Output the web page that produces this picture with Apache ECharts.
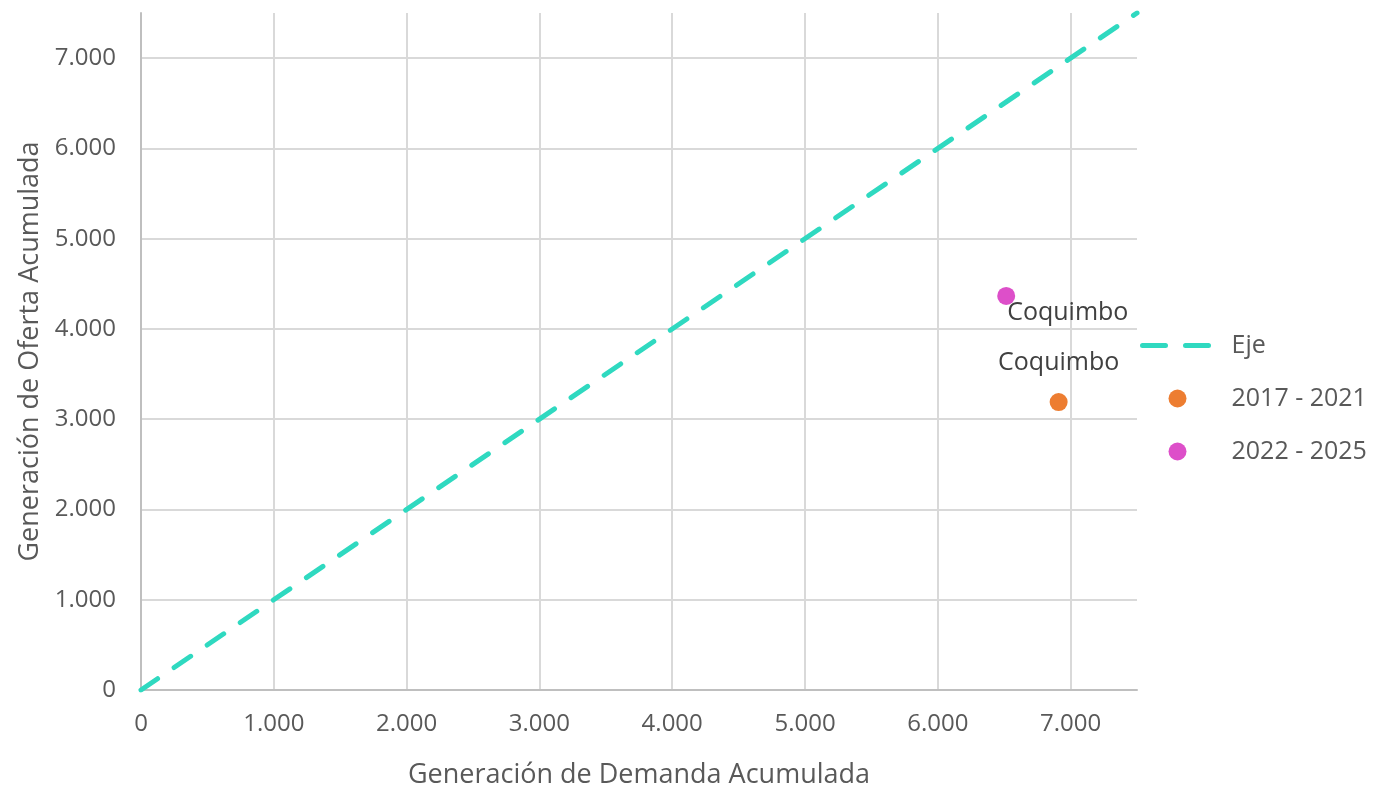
<!DOCTYPE html>
<html><head><meta charset="utf-8">
<script src="https://cdn.jsdelivr.net/npm/echarts@6/dist/echarts.min.js"></script>
<style>html,body{margin:0;padding:0;background:#fff}#c{width:1386px;height:788px}</style>
</head><body><div id="c"></div>
<script>
const ejeData = [[0, 0], [7500, 7500]];
const serie2017 = [[6910, 3190]];
const serie2022 = [[6515, 4365]];
const pointLabels = ['Coquimbo'];
const seriesNames = ['Eje', '2017 - 2021', '2022 - 2025'];
const xName = 'Generación de Demanda Acumulada';
const yName = 'Generación de Oferta Acumulada';

const font = '"Open Sans", "Noto Sans", sans-serif';
const fmt = v => v === 0 ? '0' : (v / 1000).toFixed(3);
const teal = '#2fd9c0';

const chart = echarts.init(document.getElementById('c'));
chart.setOption({
  animation: false,
  textStyle: { fontFamily: font },
  grid: { left: 141, right: 249, top: 13, bottom: 98, containLabel: false, outerBoundsMode: 'none' },
  legend: {
    orient: 'vertical', left: 1135, top: 328,
    itemWidth: 70, itemHeight: 18, itemGap: 28,
    textStyle: { fontSize: 25, color: '#595959', fontFamily: font, padding: [0, 0, 0, 14] },
    data: [
      { name: seriesNames[0], itemStyle: { opacity: 0 },
        lineStyle: { color: teal, width: 5, type: [23, 20], cap: 'round' } },
      { name: seriesNames[1], icon: 'circle' },
      { name: seriesNames[2], icon: 'circle' }
    ]
  },
  xAxis: {
    type: 'value', min: 0, max: 7500, interval: 1000,
    name: xName, nameLocation: 'middle', nameGap: 72,
    nameTextStyle: { fontSize: 27, color: '#595959', fontFamily: font },
    axisLine: { show: true, lineStyle: { color: '#bfbfbf', width: 2 } },
    axisTick: { show: false },
    axisLabel: { fontSize: 24, color: '#595959', margin: 22, formatter: fmt, showMaxLabel: false },
    splitLine: { show: true, showMaxLine: false, lineStyle: { color: '#d9d9d9', width: 2 } }
  },
  yAxis: {
    type: 'value', min: 0, max: 7500, interval: 1000,
    name: yName, nameLocation: 'middle', nameGap: 93,
    nameTextStyle: { fontSize: 27, color: '#595959', fontFamily: font },
    axisLine: { show: true, lineStyle: { color: '#bfbfbf', width: 2 } },
    axisTick: { show: false },
    axisLabel: { fontSize: 24, color: '#595959', margin: 25, formatter: fmt, showMaxLabel: false },
    splitLine: { show: true, showMaxLine: false, lineStyle: { color: '#d9d9d9', width: 2 } }
  },
  series: [
    {
      name: seriesNames[0], type: 'line', data: ejeData,
      showSymbol: false, symbol: 'none',
      lineStyle: { color: teal, width: 5, type: [20, 20], cap: 'round' },
      itemStyle: { color: teal }
    },
    {
      name: seriesNames[1], type: 'scatter', data: serie2017,
      symbolSize: 18, itemStyle: { color: '#ed7d31', opacity: 1 },
      label: {
        show: true, position: 'top', distance: 18,
        formatter: () => pointLabels[0],
        fontSize: 25, color: '#404040', fontFamily: font
      }
    },
    {
      name: seriesNames[2], type: 'scatter', data: serie2022,
      symbolSize: 18, itemStyle: { color: '#dd4fc9', opacity: 1 },
      label: {
        show: true, position: 'right', distance: 0, offset: [-8, 17],
        formatter: () => pointLabels[0],
        fontSize: 25, color: '#404040', fontFamily: font
      }
    }
  ]
});
</script></body></html>
